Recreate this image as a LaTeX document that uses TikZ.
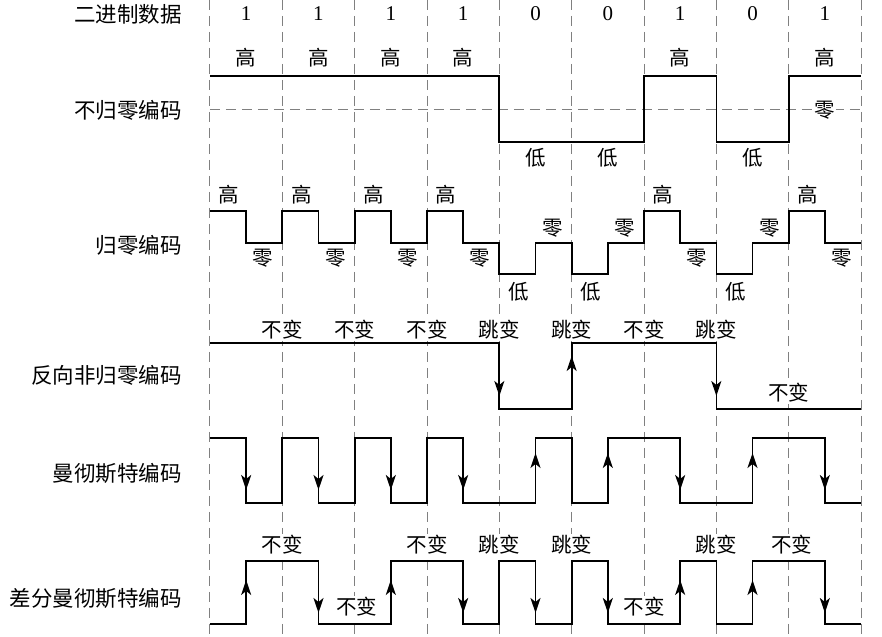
\documentclass[tikz,border=0pt]{standalone}
\usepackage{fontspec}
\setmainfont{Liberation Serif}
\newfontfamily\cjk{Noto Sans CJK SC}
\usepackage{tikz}
\usetikzlibrary{arrows.meta}

\begin{document}
\begin{tikzpicture}[x=36.17pt, y=-1pt,
    grid/.style={gray, line width=1pt, dash pattern=on 10pt off 6pt},
    wave/.style={line width=1.7pt, line join=miter},
    arr/.style={line width=1.7pt, -{Stealth[length=15pt, width=10pt, inset=4pt]}},
    lbl/.style={font=\cjk\fontsize{20.5}{22}\selectfont, fill=white, inner sep=1pt},
    rowname/.style={font=\cjk\fontsize{21.5}{24}\selectfont, anchor=east, inner sep=0pt},
    bit/.style={font=\fontsize{21}{22}\selectfont}]
        \useasboundingbox (-5.806,0) rectangle (18.58,637);

        % The bit boundaries
        \foreach \i in {0,...,9}
            \draw[grid] (2*\i,0) -- (2*\i,637);
        \draw[grid] (0,110) -- (18,110);

        % Row names
        \node[rowname] (hdr) at (-0.77,14) {二进制数据};
        \node[rowname] (nrz) at (-0.77,110) {不归零编码};
        \node[rowname] (rz) at (-0.77,245) {归零编码};
        \node[rowname] (nrzi) at (-0.77,375) {反向非归零编码};
        \node[rowname] (man) at (-0.77,473) {曼彻斯特编码};
        \node[rowname] (dman) at (-0.77,598) {差分曼彻斯特编码};

        % The data bits
        \foreach \b [count=\i] in {1,1,1,1,0,0,1,0,1}
            \node[bit] (b\i) at (2*\i-1,14) {\b};

        % NRZ
        \foreach \i in {1,2,3,4,7,9}
            \node[lbl] (nrzhi\i) at (2*\i-1,58) {高};
        \foreach \i in {5,6,8}
            \node[lbl] (nrzlo\i) at (2*\i-1,158) {低};
        \node[lbl] (nrzzero) at (17,110) {零};
        \draw[wave] (0,76) -| (8,142) -| (12,76) -| (14,142) -| (16,76) -- (18,76);

        % RZ
        \foreach \i in {1,2,3,4,7,9} {
            \node[lbl] (rzhi\i) at (2*\i-1.47,195) {高};
            \node[lbl] (rzzero\i) at (2*\i-0.53,258) {零};
        }
        \foreach \i in {5,6,8} {
            \node[lbl] (rzlo\i) at (2*\i-1.47,292) {低};
            \node[lbl] (rzzero\i) at (2*\i-0.53,228) {零};
        }
        \draw[wave] (0,211) -| (1,243) -| (2,211) -| (3,243) -| (4,211) -| (5,243)
            -| (6,211) -| (7,243) -| (8,274) -| (9,243) -| (10,274) -| (11,243)
            -| (12,211) -| (13,243) -| (14,274) -| (15,243) -| (16,211) -| (17,243) -- (18,243);

        % NRZI
        \foreach \x/\t in {2/不变, 4/不变, 6/不变, 8/跳变, 10/跳变, 12/不变, 14/跳变}
            \node[lbl] (nrzi\x) at (\x,330) {\t};
        \node[lbl] (nrzi16) at (16,393) {不变};
        \draw[wave] (0,343) -| (8,409) -| (10,343) -| (14,409) -- (18,409);
        \draw[arr] (8,343) -- (8,396);
        \draw[arr] (10,409) -- (10,356);
        \draw[arr] (14,343) -- (14,396);

        % Manchester
        \draw[wave] (0,438) -| (1,503) -| (2,438) -| (3,503) -| (4,438) -| (5,503)
            -| (6,438) -| (7,503) -| (9,438) -| (10,503) -| (11,438) -| (13,503)
            -| (15,438) -| (17,503) -- (18,503);
        \foreach \x in {1,3,5,7,13,17}
            \draw[arr] (\x,438) -- (\x,490);
        \foreach \x in {9,11,15}
            \draw[arr] (\x,503) -- (\x,453);

        % Differential Manchester
        \foreach \x/\t in {2/不变, 6/不变, 8/跳变, 10/跳变, 14/跳变, 16.08/不变}
            \node[lbl] (dman\x) at (\x,545) {\t};
        \node[lbl] (dmanlo4) at (4.06,607) {不变};
        \node[lbl] (dmanlo12) at (12,607) {不变};
        \draw[wave] (0,624) -| (1,561) -| (3,624) -| (5,561) -| (7,624) -| (8,561)
            -| (9,624) -| (10,561) -| (11,624) -| (13,561) -| (14,624) -| (15,561)
            -| (17,624) -- (18,624);
        \foreach \x in {1,5,13,15}
            \draw[arr] (\x,624) -- (\x,580);
        \foreach \x in {3,7,9,11,17}
            \draw[arr] (\x,561) -- (\x,613);
    \end{tikzpicture}
\end{document}
